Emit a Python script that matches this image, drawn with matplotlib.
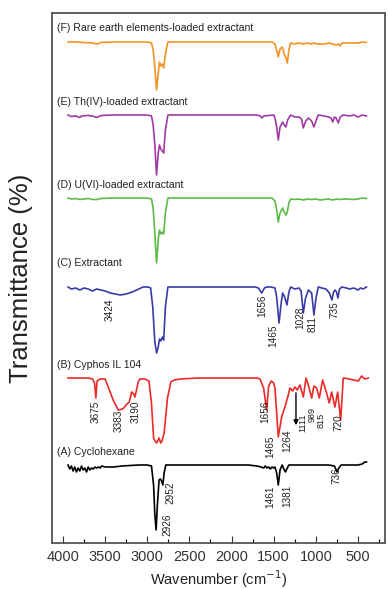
import matplotlib
matplotlib.use('Agg')
import matplotlib.pyplot as plt
from matplotlib.ticker import MultipleLocator

plt.rcParams['font.family'] = ['Liberation Sans', 'DejaVu Sans']

# ---------------- data (wavenumber cm-1, relative transmittance) ----------------
A_wn = [3940, 3920, 3900, 3880, 3860, 3840, 3820, 3800, 3780, 3760, 3740, 3720, 3700, 3680, 3660, 3640, 3620, 3600, 3580, 3560, 3540,
        3500, 3400, 3300, 3100, 3000, 2950, 2925, 2910, 2895, 2880, 2860, 2845, 2830, 2815, 2800, 2780, 2760, 2500, 2000, 1800, 1700,
        1650, 1620, 1600, 1580, 1560, 1540, 1520, 1500, 1485, 1465, 1446, 1425, 1400, 1380, 1360, 1345, 1320, 1280, 1200, 1000, 850,
        780, 765, 750, 735, 700, 600, 500, 450, 420, 400]
A_T = [100, 96, 99, 94, 98, 93, 97, 94, 99, 95, 97, 93, 98, 95, 97, 96, 98, 97, 98, 97, 99,
       98, 98, 99, 100, 100, 99, 80, 50, 35, 60, 85, 86, 84, 80, 92, 100, 100, 100, 100, 100, 99,
       98, 97, 99, 97, 98, 96, 98, 97, 98, 92, 80, 95, 100, 96, 93, 96, 100, 100, 100, 100, 100,
       99, 96, 93, 96, 100, 100, 100, 101, 103, 103]

B_wn = [3940, 3800, 3700, 3650, 3625, 3610, 3595, 3560, 3500, 3450, 3400, 3344, 3290, 3240, 3213, 3185, 3160, 3146, 3107, 3087,
        3030, 2980, 2950, 2925, 2909, 2889, 2860, 2841, 2825, 2800, 2760, 2720, 2680, 2600, 2400, 2000, 1700, 1663, 1620, 1584,
        1560, 1530, 1500, 1485, 1446, 1406, 1367, 1327, 1307, 1276, 1248, 1221, 1189, 1149, 1117, 1089, 1050, 1023, 991, 959,
        920, 880, 841, 813, 774, 742, 706, 675, 600, 556, 497, 457, 420, 378]
B_T = [100, 100, 100, 99, 95, 80, 97, 99, 99, 88, 77, 68, 69, 74, 76, 86, 84, 81, 96, 99,
       99, 97, 75, 40, 37, 35, 40, 35, 37, 45, 80, 96, 98, 99, 100, 100, 100, 99, 90, 68,
       92, 97, 95, 90, 41, 61, 71, 83, 90, 87, 91, 88, 93, 81, 100, 93, 80, 92, 90, 80,
       98, 87, 75, 86, 71, 86, 58, 100, 99, 98, 97, 102, 99, 100]

C_wn = [3940, 3900, 3850, 3800, 3750, 3700, 3650, 3600, 3550, 3500, 3440, 3380, 3320, 3250, 3180, 3100, 3050, 2990, 2960, 2935,
        2910, 2890, 2870, 2855, 2840, 2820, 2805, 2785, 2755, 2500, 2000, 1720, 1683, 1643, 1610, 1584, 1530, 1485, 1465, 1437,
        1410, 1394, 1370, 1343, 1320, 1299, 1250, 1200, 1175, 1149, 1125, 1089, 1050, 1023, 1000, 972, 930, 880, 840, 810,
        790, 774, 755, 738, 720, 690, 640, 600, 550, 500, 470, 440, 400]
C_T = [100, 98, 99, 97, 99, 98, 96, 98, 97, 96, 94, 93, 92, 93, 95, 98, 100, 100, 99, 80,
       45, 34, 40, 48, 46, 50, 47, 80, 100, 100, 100, 100, 99, 94, 99, 100, 100, 99, 90, 64,
       85, 94, 90, 82, 95, 100, 98, 99, 96, 74, 88, 97, 94, 72, 88, 100, 99, 98, 94, 87,
       95, 97, 95, 89, 98, 100, 99, 98, 99, 97, 99, 98, 100]

D_wn = [3940, 3900, 3850, 3800, 3750, 3700, 3650, 3600, 3550, 3400, 3200, 3000, 2950, 2930, 2910, 2890, 2870, 2855, 2840, 2820,
        2805, 2785, 2755, 2500, 2000, 1700, 1520, 1485, 1465, 1446, 1425, 1394, 1375, 1355, 1339, 1320, 1299, 1250, 1200, 1150,
        1100, 1050, 1000, 950, 900, 850, 800, 750, 720, 650, 550, 500, 450, 400]
D_T = [100, 99, 99.5, 98.5, 99, 99.5, 98.5, 98.5, 99.5, 100, 100, 100, 99, 90, 65, 35, 58, 68, 64, 66,
       64, 85, 100, 100, 100, 100, 100, 97, 88, 76, 85, 90, 86, 83, 86, 95, 99, 98.5, 99, 98,
       99, 98.5, 99, 98, 98.5, 99, 98, 99, 98.5, 99, 98.5, 99, 100, 99.5]

E_wn = [3940, 3900, 3850, 3800, 3780, 3700, 3650, 3600, 3550, 3400, 3200, 3000, 2950, 2930, 2910, 2890, 2870, 2855, 2840, 2820,
        2805, 2785, 2755, 2500, 2000, 1700, 1660, 1640, 1620, 1500, 1485, 1465, 1446, 1425, 1394, 1375, 1355, 1335, 1299, 1250,
        1200, 1170, 1149, 1120, 1089, 1050, 1023, 995, 972, 900, 850, 820, 801, 780, 760, 734, 710, 675, 600, 550,
        500, 450, 400]
E_T = [100, 98.5, 99, 97.5, 99, 99.5, 99, 97.5, 99.5, 100, 100, 100, 99, 90, 70, 40, 62, 70, 66, 64,
       62, 85, 100, 100, 100, 100, 99, 97, 99, 100, 97, 88, 75, 88, 93, 90, 88, 95, 100, 98,
       98, 96, 87, 94, 97, 94, 88, 95, 100, 99, 98, 97, 93, 98, 97, 92, 98, 100, 99, 100,
       98, 100, 99]

F_wn = [3940, 3850, 3750, 3650, 3600, 3550, 3400, 3200, 3000, 2950, 2930, 2910, 2890, 2870, 2855, 2840, 2820, 2805, 2785, 2755,
        2500, 2000, 1700, 1520, 1485, 1465, 1446, 1425, 1400, 1375, 1355, 1339, 1320, 1300, 1250, 1200, 1150, 1100, 1060, 1020,
        980, 900, 850, 800, 760, 730, 713, 690, 600, 500, 450, 400]
F_T = [100, 100, 99.5, 99, 98, 99.5, 100, 100, 100, 99, 92, 75, 52, 68, 80, 76, 78, 74, 88, 100,
       100, 100, 100, 100, 98, 92, 85, 93, 95, 88, 84, 79, 92, 99, 98, 99, 98, 99, 98, 99,
       98, 98, 99, 98, 97, 98, 96, 99, 99, 99, 100, 99.5]

series_names = ['(A) Cyclohexane', '(B) Cyphos IL 104', '(C) Extractant',
                '(D) U(VI)-loaded extractant', '(E) Th(IV)-loaded extractant',
                '(F) Rare earth elements-loaded extractant']

# peak annotations (text, wavenumber)
A_peaks = [('2926', 2766), ('2952', 2731), ('1461', 1544), ('1381', 1343), ('736', 750)]
B_peaks = [('3675', 3609), ('3383', 3336), ('3190', 3134), ('1656', 1604), ('1465', 1544),
           ('1264', 1343), ('1111', 1160), ('989', 1046), ('815', 932), ('720', 726)]
C_peaks = [('3424', 3442), ('1656', 1639), ('1465', 1509), ('1028', 1189), ('811', 1034), ('735', 773)]

xticks = [4000, 3500, 3000, 2500, 2000, 1500, 1000, 500]

# ---------------- layout ----------------
W, H = 388, 589
fig = plt.figure(figsize=(W / 100, H / 100), dpi=100)
ax = fig.add_axes([52 / W, 1 - 543 / H, 333 / W, 530 / H])
ax.set_xlim(4130, 180)
ax.set_ylim(0, 530)


def py(p):
    return 543 - p


colors = ['black', '#ec2a27', '#3b3ba8', '#5dba47', '#a03aa6', '#f39327']
baselines = [465, 378, 287, 198, 115, 42]
label_px = [452, 365, 263, 185, 102, 28]
all_wn = [A_wn, B_wn, C_wn, D_wn, E_wn, F_wn]
all_T = [A_T, B_T, C_T, D_T, E_T, F_T]

for wn, T, base, col, name, lp in zip(all_wn, all_T, baselines, colors, series_names, label_px):
    assert len(wn) == len(T), name
    y = [py(base) - 100 + t for t in T]
    ax.plot(wn, y, color=col, lw=1.2)
    ax.text(4075, py(lp), name, fontsize=7.6, ha='left', va='center', color='#222222')

ann_y = {
    'A': [525, 493, 497, 496, 476],
    'B': [412, 421, 412, 412, 447, 441, 423, 414, 420, 423],
    'C': [310, 306, 336, 318, 324, 310],
}
ann_size = {'1111': 6.6, '989': 6.6, '815': 6.6}
for key, peaks in (('A', A_peaks), ('B', B_peaks), ('C', C_peaks)):
    for (txt, w), yp in zip(peaks, ann_y[key]):
        fs = ann_size.get(txt, 7.2) if key == 'B' else 7.2
        ax.text(w, py(yp), txt, rotation=90, fontsize=fs, ha='center', va='center', color='#222222')

# arrow in spectrum B
ax.annotate('', xy=(1236, py(428)), xytext=(1236, py(390)),
            arrowprops=dict(arrowstyle='-|>', color='black', lw=1.0, mutation_scale=7))

ax.set_xticks(xticks)
ax.xaxis.set_minor_locator(MultipleLocator(250))
ax.tick_params(axis='x', which='major', direction='in', length=5, width=0.8, labelsize=10.5, pad=5, colors='#333333')
ax.tick_params(axis='x', which='minor', direction='in', length=3, width=0.8)
ax.set_yticks([])
for s in ax.spines.values():
    s.set_color('#555555')
    s.set_linewidth(1.3)

ax.set_xlabel('Wavenumber (cm$^{-1}$)', fontsize=10.5, labelpad=3, color='#222222')
ax.set_ylabel('Transmittance (%)', fontsize=18.5, labelpad=14, color='#222222')

fig.savefig('out.png', dpi=100)
